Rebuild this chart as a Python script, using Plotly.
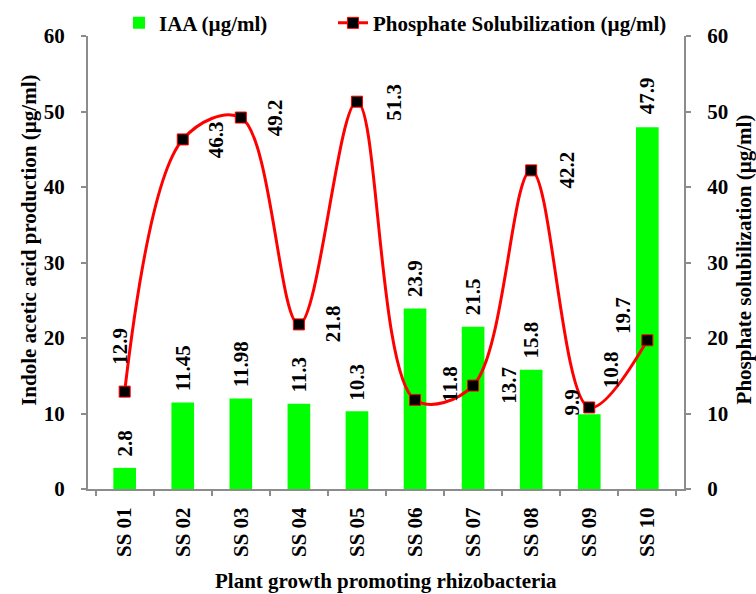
import plotly.graph_objects as go

categories = ["SS 01", "SS 02", "SS 03", "SS 04", "SS 05", "SS 06", "SS 07", "SS 08", "SS 09", "SS 10"]
iaa = [2.8, 11.45, 11.98, 11.3, 10.3, 23.9, 21.5, 15.8, 9.9, 47.9]
phosphate = [12.9, 46.3, 49.2, 21.8, 51.3, 11.8, 13.7, 42.2, 10.8, 19.7]
iaa_labels = ["2.8", "11.45", "11.98", "11.3", "10.3", "23.9", "21.5", "15.8", "9.9", "47.9"]
phos_labels = ["12.9", "46.3", "49.2", "21.8", "51.3", "11.8", "13.7", "42.2", "10.8", "19.7"]

FONT = "Liberation Serif"
FS = 21
AXIS_COLOR = "#8c8c8c"

# label placement styles (xanchor, yanchor, xshift, yshift)
bar_pos = [("center", "bottom", 0, 9)] * 8 + [("right", "bottom", -3, -3), ("center", "bottom", 0, 11)]
line_pos = [
    ("center", "bottom", -5, 25),
    ("left", "middle", 20, 0),
    ("left", "middle", 20, 0),
    ("left", "middle", 21, 1),
    ("left", "middle", 23, 0),
    ("left", "middle", 21, 16),
    ("left", "middle", 21, 0),
    ("left", "middle", 22, 0),
    ("left", "bottom", 8, 17),
    ("right", "bottom", -11, 4),
]

fig = go.Figure()
fig.add_trace(go.Bar(
    x=categories, y=iaa, name="IAA (µg/ml)",
    marker=dict(color="#00ff00", line=dict(width=0)),
    legendwidth=169,
    yaxis="y",
))
fig.add_trace(go.Scatter(
    x=categories, y=phosphate, name="Phosphate Solubilization (µg/ml)",
    mode="lines+markers",
    line=dict(color="#ff0000", width=3, shape="spline", smoothing=1.0),
    marker=dict(symbol="square", size=11, color="black", line=dict(color="#ff0000", width=1)),
    yaxis="y2",
))

annotations = []
for c, v, t, (xa, ya, xs, ys) in zip(categories, iaa, iaa_labels, bar_pos):
    annotations.append(dict(x=c, y=v, xref="x", yref="y", text=t, showarrow=False,
                            textangle=-90, xanchor=xa, yanchor=ya, xshift=xs, yshift=ys,
                            font=dict(family=FONT, size=FS, color="black", weight="bold")))
for c, v, t, (xa, ya, xs, ys) in zip(categories, phosphate, phos_labels, line_pos):
    annotations.append(dict(x=c, y=v, xref="x", yref="y2", text=t, showarrow=False,
                            textangle=-90, xanchor=xa, yanchor=ya, xshift=xs, yshift=ys,
                            font=dict(family=FONT, size=FS, color="black", weight="bold")))

# axis titles
annotations.append(dict(x=-0.099, y=0.55, xref="paper", yref="paper", showarrow=False,
                        text="Indole acetic acid production (µg/ml)", textangle=-90,
                        xanchor="center", yanchor="middle",
                        font=dict(family=FONT, size=FS, color="black", weight="bold")))
annotations.append(dict(x=1.1, y=0.506, xref="paper", yref="paper", showarrow=False,
                        text="Phosphate solubilization (µg/ml)", textangle=-90,
                        xanchor="center", yanchor="middle",
                        font=dict(family=FONT, size=FS, color="black", weight="bold")))
annotations.append(dict(x=0.5, y=-0.203, xref="paper", yref="paper", showarrow=False,
                        text="Plant growth promoting rhizobacteria",
                        xanchor="center", yanchor="middle",
                        font=dict(family=FONT, size=FS, color="black", weight="bold")))

axis_common = dict(
    showline=True, linecolor=AXIS_COLOR, linewidth=2, ticks="outside",
    tickcolor=AXIS_COLOR, ticklen=5, tickwidth=2, showgrid=False, zeroline=False,
    tickfont=dict(family=FONT, size=FS, color="black", weight="bold"),
)

fig.update_layout(
    width=756, height=594,
    margin=dict(l=88, r=72, t=36, b=105, autoexpand=False),
    paper_bgcolor="white", plot_bgcolor="white",
    font=dict(family=FONT, size=FS, color="black", weight="bold"),
    bargap=0.61,
    showlegend=True,
    legend=dict(orientation="h", x=0.052, y=0.983, xanchor="left", yanchor="bottom",
                font=dict(family=FONT, size=FS, color="black", weight="bold"),
                bgcolor="rgba(0,0,0,0)"),
    xaxis=dict(type="category", tickson="boundaries", tickangle=-90,
               ticklabelstandoff=8, **axis_common),
    yaxis=dict(range=[0, 60], dtick=10, side="left", ticklabelstandoff=12, **axis_common),
    yaxis2=dict(range=[0, 60], dtick=10, side="right", overlaying="y", ticklabelstandoff=12,
                **axis_common),
    annotations=annotations,
)

fig.write_html("out.html",
               config={"displayModeBar": False},
               post_script="document.body.style.margin='0px';document.body.style.overflow='hidden';")
